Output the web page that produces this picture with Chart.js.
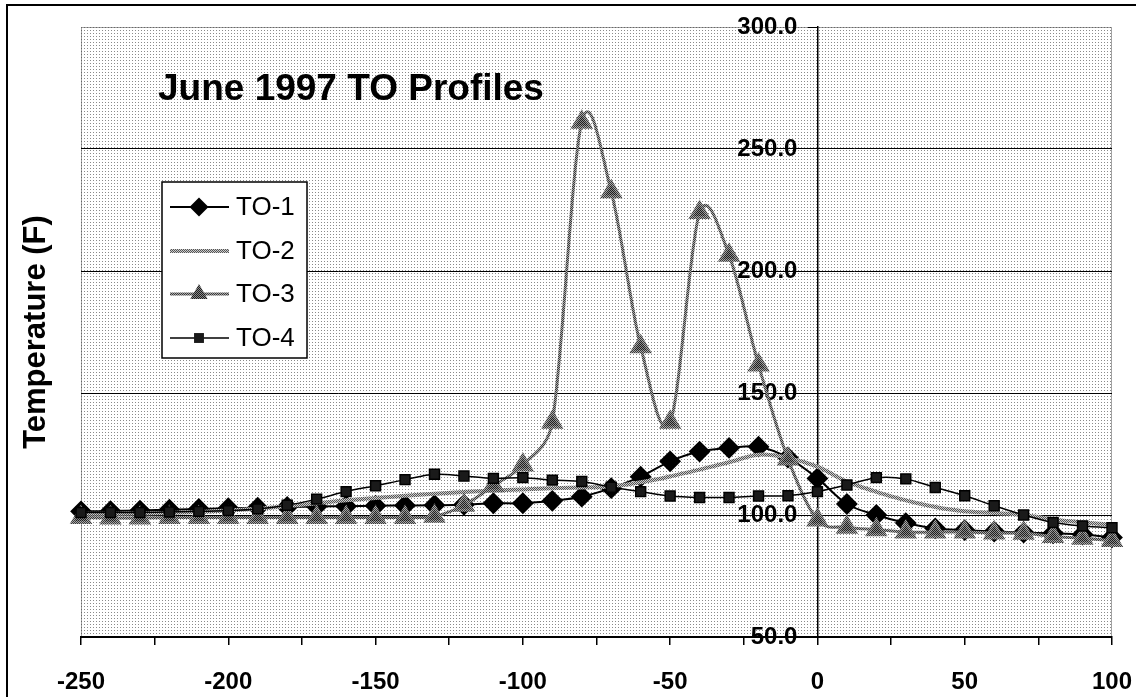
<!DOCTYPE html>
<html>
<head>
<meta charset="utf-8">
<title>June 1997 TO Profiles</title>
<script src="https://cdn.jsdelivr.net/npm/chart.js@4.4.1/dist/chart.umd.min.js"></script>
<style>
  html, body { margin: 0; padding: 0; background: #fff; }
  #wrap { width: 1136px; height: 697px; position: relative; }
</style>
</head>
<body>
<div id="wrap"><canvas id="chart"></canvas></div>
<script>
// distance along the profile
const positions = [-250, -240, -230, -220, -210, -200, -190, -180, -170, -160, -150, -140,
                   -130, -120, -110, -100, -90, -80, -70, -60, -50, -40, -30, -20,
                   -10, 0, 10, 20, 30, 40, 50, 60, 70, 80, 90, 100];

// temperatures (F), one per position
const to1 = [101.5, 101.6, 101.8, 102.2, 102.5, 102.8, 103.0, 103.3, 103.5, 103.6, 103.8, 103.9,
             104.0, 104.2, 104.8, 104.8, 105.8, 107.5, 111.0, 115.7, 122.0, 126.0, 127.5, 128.0,
             123.5, 115.0, 104.5, 100.0, 96.7, 94.5, 93.8, 93.2, 92.8, 92.5, 92.0, 90.8];
const to2 = [100.5, 100.5, 100.6, 100.8, 101.2, 101.8, 102.6, 103.6, 104.8, 106.0, 107.0, 107.9,
             108.7, 109.4, 110.0, 110.5, 111.0, 111.3, 111.7, 113.4, 115.8, 118.6, 121.6, 124.7,
             123.4, 119.8, 113.7, 109.5, 106.0, 103.3, 101.5, 100.8, 100.0, 98.2, 97.0, 96.0];
const to3 = [99.0, 98.8, 98.8, 99.0, 99.0, 99.0, 99.0, 99.0, 99.0, 99.0, 99.0, 99.0,
             99.5, 104.0, 112.0, 120.5, 138.0, 261.0, 232.5, 169.0, 138.0, 224.0, 206.5, 161.5,
             123.0, 98.0, 95.0, 94.0, 93.0, 93.0, 93.0, 92.6, 92.5, 91.2, 90.5, 89.5];
const to4 = [101.0, 101.0, 101.0, 101.2, 101.5, 101.8, 102.5, 104.0, 106.5, 109.6, 112.0, 114.5,
             116.7, 116.0, 115.0, 115.3, 114.3, 113.7, 111.4, 109.6, 107.8, 107.2, 107.2, 107.8,
             107.9, 109.6, 112.3, 115.3, 114.8, 111.3, 107.9, 103.8, 100.0, 96.9, 95.5, 94.8];

const seriesNames = ['TO-1', 'TO-2', 'TO-3', 'TO-4'];
const xTicks = { min: -250, max: 100, step: 25, labelEvery: 50 };
const yTicks = { min: 50, max: 300, step: 50 };

const FONT = 'Arial, "Liberation Sans", sans-serif';

const canvas = document.getElementById('chart');
const ctx0 = canvas.getContext('2d');

function makePattern(rows) {
    const c = document.createElement('canvas');
    c.width = rows[0].length;
    c.height = rows.length;
    const g = c.getContext('2d');
    rows.forEach((row, y) => row.forEach((col, x) => {
        g.fillStyle = col;
        g.fillRect(x, y, 1, 1);
    }));
    return ctx0.createPattern(c, 'repeat');
}

const plotPattern = makePattern([
    ['#8a8a8a', '#ffffff', '#ffffff'],
    ['#ffffff', '#ffffff', '#ffffff'],
    ['#ffffff', '#ffffff', '#ffffff']
]);
const grayLine = makePattern([['#555555', '#cccccc'], ['#cccccc', '#555555']]);
const darkLine = makePattern([['#3a3a3a', '#a8a8a8'], ['#a8a8a8', '#3a3a3a']]);
const triFill = makePattern([['#1e1e1e', '#8a8a8a'], ['#8a8a8a', '#1e1e1e']]);

const pts = (arr) => arr.map((v, i) => ({ x: positions[i], y: v }));

const datasets = [
    { label: seriesNames[0], data: pts(to1), borderColor: '#000', backgroundColor: '#000',
      borderWidth: 2, pointStyle: 'rectRot', pointRadius: 9.5, order: 4 },
    { label: seriesNames[1], data: pts(to2), borderColor: grayLine, backgroundColor: grayLine,
      borderWidth: 4, pointRadius: 0, order: 3 },
    { label: seriesNames[2], data: pts(to3), borderColor: darkLine, backgroundColor: triFill,
      borderWidth: 3, pointStyle: 'triangle', pointRadius: 10, order: 2 },
    { label: seriesNames[3], data: pts(to4), borderColor: '#000', backgroundColor: '#1a1a1a',
      borderWidth: 1.5, pointStyle: 'rect', pointRadius: 7, order: 1 }
];

// spreadsheet-style smoothing: control points at 1/6 of the neighbour span,
// capped at half of the segment they lead into
const smoothing = {
    id: 'smoothing',
    beforeDatasetDraw(chart, args) {
        const line = args.meta.dataset;
        const p = args.meta.data;
        if (!line || p.length < 2) return;
        line.updateControlPoints(chart.chartArea, 'x');
        const cap = (dx, dy, a, b) => {
            const len = Math.hypot(dx, dy);
            const max = Math.hypot(b.x - a.x, b.y - a.y) / 2;
            return len > max && len > 0 ? max / len : 1;
        };
        for (let i = 0; i < p.length; i++) {
            const prev = p[Math.max(i - 1, 0)];
            const next = p[Math.min(i + 1, p.length - 1)];
            const dx = (next.x - prev.x) / 6;
            const dy = (next.y - prev.y) / 6;
            const k1 = cap(dx, dy, prev, p[i]);
            const k2 = cap(dx, dy, p[i], next);
            p[i].cp1x = p[i].x - dx * k1;
            p[i].cp1y = p[i].y - dy * k1;
            p[i].cp2x = p[i].x + dx * k2;
            p[i].cp2y = p[i].y + dy * k2;
        }
    }
};

// background, frame, titles and the boxed legend
const decor = {
    id: 'decor',
    beforeDraw(chart) {
        const { ctx, chartArea: a } = chart;
        ctx.save();
        ctx.fillStyle = '#fff';
        ctx.fillRect(0, 0, chart.width, chart.height);
        ctx.strokeStyle = '#000';
        ctx.lineWidth = 2;
        ctx.strokeRect(7, 5, chart.width + 20, chart.height + 20);
        ctx.fillStyle = plotPattern;
        ctx.fillRect(a.left, a.top, a.right - a.left, a.bottom - a.top);
        ctx.strokeStyle = '#444';
        ctx.lineWidth = 1;
        ctx.setLineDash([1, 1]);
        ctx.strokeRect(a.left + 0.5, a.top + 0.5, a.right - a.left - 1, a.bottom - a.top);
        ctx.restore();
    },
    afterDraw(chart) {
        const ctx = chart.ctx;
        ctx.save();
        ctx.fillStyle = '#000';
        ctx.font = 'bold 37px ' + FONT;
        ctx.textAlign = 'left';
        ctx.textBaseline = 'alphabetic';
        ctx.fillText('June 1997 TO Profiles', 158, 100);

        ctx.save();
        ctx.translate(45, 332);
        ctx.rotate(-Math.PI / 2);
        ctx.font = 'bold 31px ' + FONT;
        ctx.textAlign = 'center';
        ctx.fillText('Temperature (F)', 0, 0);
        ctx.restore();

        // legend box
        const box = { x: 162, y: 182, w: 145, h: 176 };
        ctx.fillStyle = '#fff';
        ctx.fillRect(box.x, box.y, box.w, box.h);
        ctx.strokeStyle = '#000';
        ctx.lineWidth = 1.5;
        ctx.strokeRect(box.x, box.y, box.w, box.h);
        const rowY = [207, 251, 294, 338];
        chart.data.datasets.forEach((ds, i) => {
            const y = rowY[i];
            ctx.strokeStyle = ds.borderColor;
            ctx.lineWidth = ds.borderWidth;
            ctx.beginPath();
            ctx.moveTo(170, y);
            ctx.lineTo(229, y);
            ctx.stroke();
            if (ds.pointRadius > 0) {
                ctx.fillStyle = ds.backgroundColor;
                Chart.helpers.drawPoint(ctx, { pointStyle: ds.pointStyle, radius: ds.pointRadius,
                    rotation: 0, borderWidth: 0 }, 199, y);
            }
            ctx.fillStyle = '#000';
            ctx.font = '26px ' + FONT;
            ctx.textAlign = 'left';
            ctx.textBaseline = 'middle';
            ctx.fillText(ds.label, 236, y + 1);
        });
        ctx.restore();
    }
};

const chart = new Chart(canvas, {
    type: 'line',
    data: { datasets: datasets },
    options: {
        responsive: true,
        maintainAspectRatio: false,
        animation: false,
        layout: { padding: { left: 81, right: 24, top: 27, bottom: 0 } },
        elements: {
            line: { tension: 0.35, cubicInterpolationMode: 'default' },
            point: { borderWidth: 0, hoverRadius: 9 }
        },
        datasets: { line: { clip: false } },
        plugins: { legend: { display: false }, tooltip: { enabled: false } },
        events: [],
        scales: {
            x: {
                type: 'linear',
                min: xTicks.min,
                max: xTicks.max,
                afterFit: (s) => {
                    s.height = 60;
                    s.paddingLeft = 20;
                    s.paddingRight = 20;
                },
                ticks: {
                    stepSize: xTicks.step,
                    autoSkip: false,
                    maxRotation: 0,
                    padding: 23,
                    color: '#000',
                    font: { family: FONT, size: 24, weight: 'bold' },
                    callback: (v) => (v % xTicks.labelEvery === 0 ? String(v) : '')
                },
                grid: { drawOnChartArea: false, tickLength: 8, color: '#000', lineWidth: 1.5 },
                border: { color: '#000', width: 2 }
            },
            y: {
                type: 'linear',
                position: { x: 0 },
                min: yTicks.min,
                max: yTicks.max,
                ticks: {
                    stepSize: yTicks.step,
                    color: '#000',
                    font: { family: FONT, size: 24, weight: 'bold' },
                    // trailing spaces keep the label clear of the axis line
                    callback: (v) => v.toFixed(1) + '   '
                },
                grid: {
                    color: (c) => (c.tick && c.tick.value === yTicks.max ? 'rgba(0,0,0,0)' : '#000'),
                    tickColor: '#000',
                    tickLength: 9,
                    lineWidth: 1
                },
                border: { color: '#000', width: 1.5 }
            }
        }
    },
    plugins: [smoothing, decor]
});
</script>
</body>
</html>
